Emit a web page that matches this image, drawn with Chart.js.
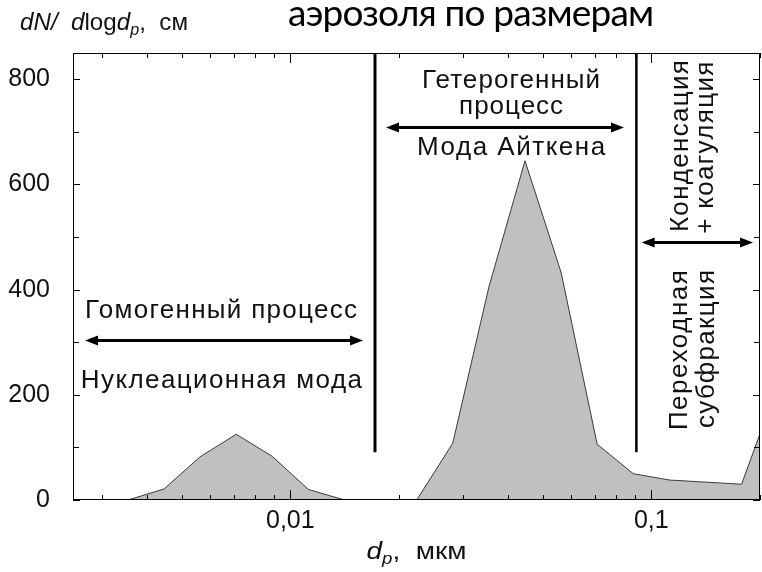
<!DOCTYPE html>
<html>
<head>
<meta charset="utf-8">
<script src="https://cdn.jsdelivr.net/npm/chart.js@4.4.1/dist/chart.umd.min.js"></script>
<style>
  html, body { margin: 0; padding: 0; background: #fff; }
  canvas { display: block; }
</style>
</head>
<body>
<canvas id="chart" width="762" height="572"></canvas>
<script>
// Диаметр частиц (центры интервалов), мкм
const diameters = [0.00282, 0.00355, 0.00447, 0.00562, 0.00708, 0.00891, 0.01122, 0.01413,
                   0.01778, 0.02239, 0.02818, 0.03548, 0.04467, 0.05623, 0.07079, 0.08913,
                   0.1122, 0.1778, 0.2239];
// Счётная концентрация dN/dlogdp, см^-3
const concentrations = [0, 0, 21, 82, 125, 83, 20, 0,
                        0, 0, 108, 405, 645, 433, 106, 50,
                        38, 30, 218];

// Границы областей (мкм) и нижний конец разделительных линий
const boundaries = [0.01716, 0.0909];
const boundaryBase = 91;

// Оси
const xRange = [0.0025, 0.2];
const yRange = [0, 850];
const xTickValues = [0.01, 0.1];
const xTickLabels = ['0,01', '0,1'];
const xMinorTicks = [0.003, 0.004, 0.005, 0.006, 0.007, 0.008, 0.009,
                     0.02, 0.03, 0.04, 0.05, 0.06, 0.07, 0.08, 0.09, 0.2];
const yTickValues = [0, 200, 400, 600, 800];
const yMinorTicks = [100, 300, 500, 700];

// Подписи областей: положение в координатах данных
const labels = [
  { text: 'Гомогенный процесс', x: 0.00643, y: 346, width: 272 },
  { text: 'Нуклеационная мода', x: 0.00644, y: 213, width: 281 },
  { text: 'Гетерогенный', x: 0.04088, y: 783, width: 178 },
  { text: 'процесс', x: 0.04088, y: 734, width: 104 },
  { text: 'Мода Айткена', x: 0.04088, y: 656, width: 188 }
];
const verticalLabels = [
  { text: 'Конденсация', x: 0.1264, y: 673, width: 172 },
  { text: '+ коагуляция', x: 0.1483, y: 670, width: 172 },
  { text: 'Переходная', x: 0.1256, y: 285, width: 160 },
  { text: 'субфракция', x: 0.1492, y: 287, width: 158 }
];
const arrows = [
  { x1: 0.00270, x2: 0.01590, y: 304 },
  { x1: 0.01841, x2: 0.0840, y: 709 },
  { x1: 0.0940, x2: 0.1913, y: 491 }
];

const SANS = '"Liberation Sans", Arial, sans-serif';
const INK = '#111';

// Текст с межбуквенным интервалом, подобранным под заданную ширину (выравнивание по левому краю)
function fitText(ctx, text, left, baseline, width) {
  const chars = [...text].length;
  if ('letterSpacing' in ctx) {
    ctx.letterSpacing = '0px';
    const w0 = ctx.measureText(text).width;
    const ls = chars > 1 ? (width - w0) / (chars - 1) : 0;
    ctx.letterSpacing = ls.toFixed(2) + 'px';
    ctx.textAlign = 'left';
    ctx.fillText(text, left, baseline);
    ctx.letterSpacing = '0px';
  } else {
    const w0 = ctx.measureText(text).width;
    ctx.save();
    ctx.translate(left, baseline);
    ctx.scale(width / w0, 1);
    ctx.textAlign = 'left';
    ctx.fillText(text, 0, 0);
    ctx.restore();
  }
}

function drawRuns(ctx, runs, x, y) {
  ctx.textAlign = 'left';
  for (const r of runs) {
    ctx.font = r.font;
    ctx.fillText(r.t, x, y + (r.dy || 0));
    x += ctx.measureText(r.t).width;
  }
}
function runsWidth(ctx, runs) {
  let w = 0;
  for (const r of runs) { ctx.font = r.font; w += ctx.measureText(r.t).width; }
  return w;
}
// Набор фрагментов, растянутый или сжатый по горизонтали до заданной ширины
function drawRunsFit(ctx, runs, left, baseline, width) {
  const w = runsWidth(ctx, runs);
  ctx.save();
  ctx.translate(left, baseline);
  ctx.scale(width / w, 1);
  drawRuns(ctx, runs, 0, 0);
  ctx.restore();
}

function drawArrow(ctx, xa, xb, y) {
  const head = 13, half = 5;
  ctx.lineWidth = 3;
  ctx.beginPath();
  ctx.moveTo(xa + head - 2, y);
  ctx.lineTo(xb - head + 2, y);
  ctx.stroke();
  ctx.beginPath();
  ctx.moveTo(xa, y); ctx.lineTo(xa + head, y - half); ctx.lineTo(xa + head, y + half); ctx.closePath();
  ctx.fill();
  ctx.beginPath();
  ctx.moveTo(xb, y); ctx.lineTo(xb - head, y - half); ctx.lineTo(xb - head, y + half); ctx.closePath();
  ctx.fill();
}

// Рамка графика и внутренние засечки на всех четырёх сторонах
const frameAndTicks = {
  id: 'frameAndTicks',
  afterDatasetsDraw(chart) {
    const { ctx, chartArea: a, scales: { x, y } } = chart;
    ctx.save();
    ctx.strokeStyle = '#000';
    ctx.lineWidth = 1;
    ctx.strokeRect(a.left + 0.5, a.top + 0.5, a.right - a.left - 1, a.bottom - a.top - 1);
    const vt = (v, len) => {
      const px = Math.round(x.getPixelForValue(v)) + 0.5;
      ctx.beginPath();
      ctx.moveTo(px, a.bottom); ctx.lineTo(px, a.bottom - len);
      ctx.moveTo(px, a.top); ctx.lineTo(px, a.top + len);
      ctx.stroke();
    };
    const ht = (v, len) => {
      const py = Math.round(y.getPixelForValue(v)) + 0.5;
      ctx.beginPath();
      ctx.moveTo(a.left, py); ctx.lineTo(a.left + len, py);
      ctx.moveTo(a.right, py); ctx.lineTo(a.right - len, py);
      ctx.stroke();
    };
    xTickValues.forEach(v => vt(v, 10));
    xMinorTicks.forEach(v => vt(v, 5));
    yTickValues.forEach(v => ht(v, 7));
    yMinorTicks.forEach(v => ht(v, 6));
    ctx.restore();
  }
};

// Подписи, стрелки, заголовок и названия осей
const annotationsPlugin = {
  id: 'annotationsPlugin',
  afterDraw(chart) {
    const { ctx, chartArea: a, scales: { x, y } } = chart;
    ctx.save();
    ctx.fillStyle = INK;
    ctx.strokeStyle = '#000';
    ctx.textBaseline = 'alphabetic';

    ctx.font = '26px ' + SANS;
    for (const l of labels) {
      const cx = x.getPixelForValue(l.x);
      fitText(ctx, l.text, cx - l.width / 2, y.getPixelForValue(l.y), l.width);
    }
    for (const l of verticalLabels) {
      const bx = x.getPixelForValue(l.x);
      const cy = y.getPixelForValue(l.y);
      ctx.save();
      ctx.translate(bx, cy);
      ctx.rotate(-Math.PI / 2);
      fitText(ctx, l.text, -l.width / 2, 0, l.width);
      ctx.restore();
    }
    ctx.fillStyle = '#000';
    for (const r of arrows) {
      drawArrow(ctx, x.getPixelForValue(r.x1), x.getPixelForValue(r.x2), Math.round(y.getPixelForValue(r.y)) + 0.5);
    }

    // Заголовок
    ctx.fillStyle = '#000';
    ctx.font = '37px Lato, "Open Sans", sans-serif';
    fitText(ctx, 'аэрозоля по размерам', 288, 26, 366);

    // Название оси Y
    ctx.fillStyle = INK;
    const it = 'italic 24px ' + SANS, rg = '24px ' + SANS, sub = 'italic 16px ' + SANS;
    drawRunsFit(ctx, [
      { t: 'dN/', font: it }, { t: '  ', font: rg }, { t: 'd', font: it }, { t: 'log', font: rg },
      { t: 'd', font: it }, { t: 'p', font: sub, dy: 5 }, { t: ',  см', font: rg }
    ], 20, 30, 168);

    // Название оси X
    const xRuns = [
      { t: 'd', font: it }, { t: 'p', font: sub, dy: 5 }, { t: ',  мкм', font: rg }
    ];
    drawRunsFit(ctx, xRuns, (a.left + a.right) / 2 - 50, 559, 100);
    ctx.restore();
  }
};

const sizeData = diameters.map((d, i) => ({ x: d, y: concentrations[i] }));
const boundaryData = boundaries.map(b => [{ x: b, y: boundaryBase }, { x: b, y: yRange[1] }]);

new Chart(document.getElementById('chart'), {
  type: 'line',
  data: {
    datasets: [
      {
        data: sizeData,
        fill: 'origin',
        backgroundColor: '#c0c0c0',
        borderColor: '#3a3a3a',
        borderWidth: 1,
        pointRadius: 0,
        tension: 0
      },
      ...boundaryData.map((d, i) => ({
        data: d,
        fill: false,
        borderColor: '#000',
        borderWidth: i === 0 ? 3 : 2.5,
        pointRadius: 0
      }))
    ]
  },
  options: {
    responsive: false,
    animation: false,
    devicePixelRatio: 1,
    layout: { padding: { top: 53, right: 2, left: 0, bottom: 0 } },
    plugins: { legend: { display: false }, tooltip: { enabled: false }, title: { display: false } },
    scales: {
      x: {
        type: 'logarithmic',
        min: xRange[0],
        max: xRange[1],
        afterBuildTicks(s) { s.ticks = xTickValues.map(v => ({ value: v, major: true })); },
        afterFit(s) { s.height = 72; },
        grid: { display: false },
        border: { display: false },
        ticks: {
          autoSkip: false,
          maxRotation: 0,
          padding: -2,
          color: INK,
          font: { family: SANS, size: 25 },
          callback(v) { const i = xTickValues.indexOf(v); return i >= 0 ? xTickLabels[i] : ''; }
        }
      },
      y: {
        type: 'linear',
        min: yRange[0],
        max: yRange[1],
        afterBuildTicks(s) { s.ticks = yTickValues.map(v => ({ value: v })); },
        afterFit(s) { s.width = 73; },
        grid: { display: false },
        border: { display: false },
        ticks: {
          padding: 15,
          color: INK,
          font: { family: SANS, size: 25 },
          callback(v) { return String(v); }
        }
      }
    }
  },
  plugins: [frameAndTicks, annotationsPlugin]
});
</script>
</body>
</html>
